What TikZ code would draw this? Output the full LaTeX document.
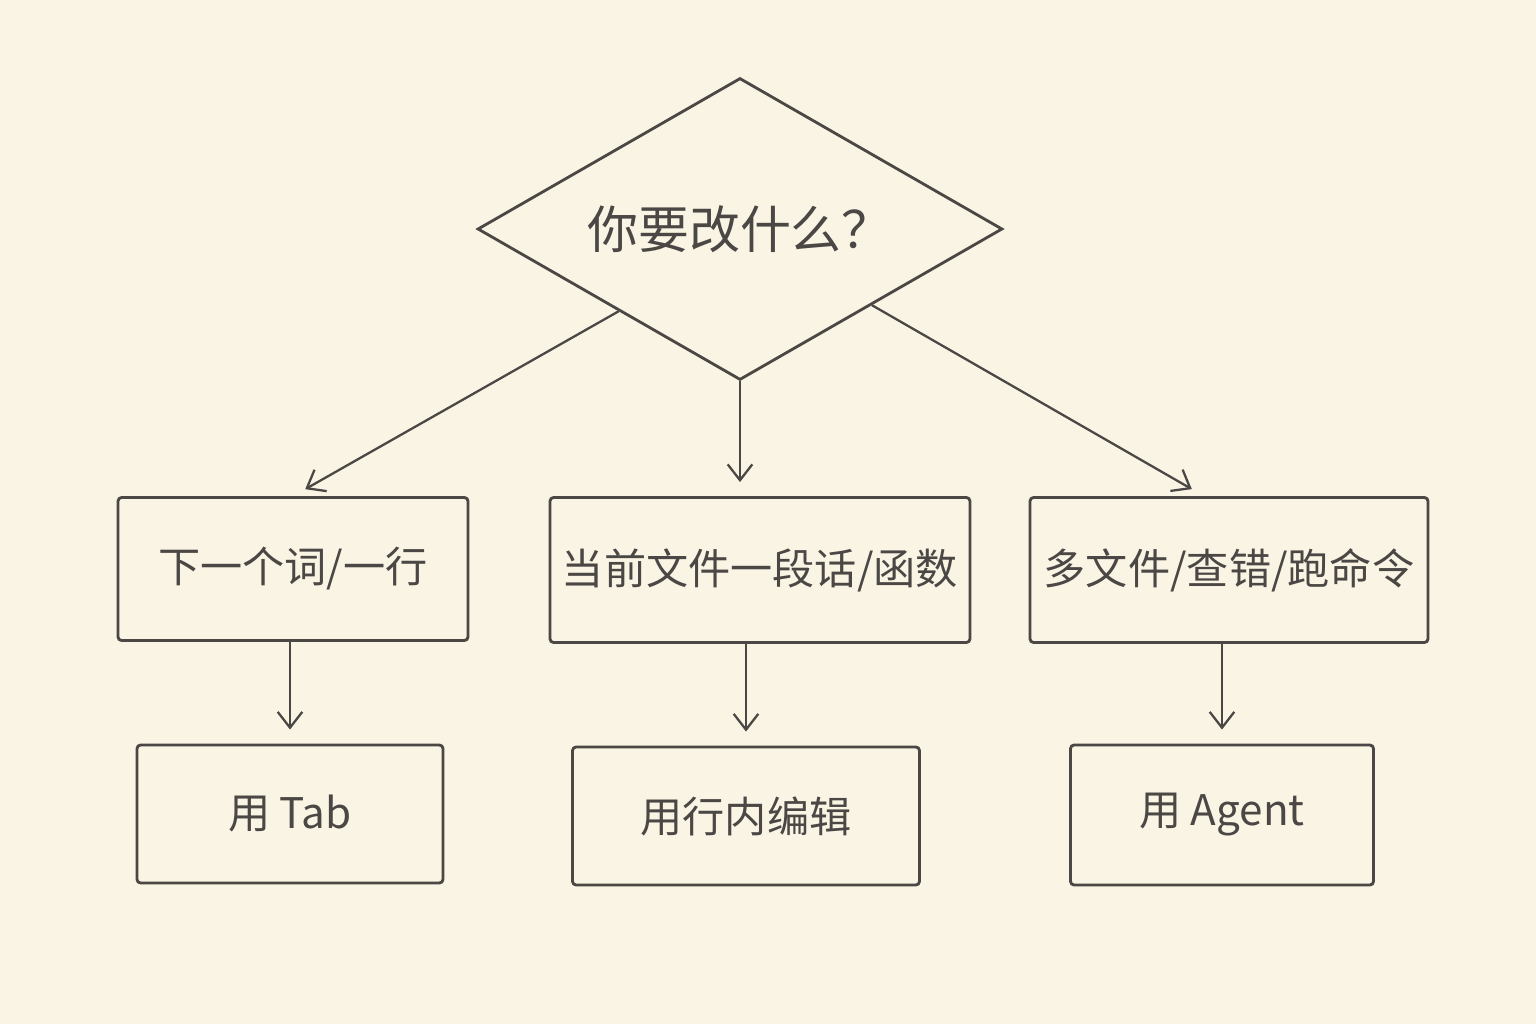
\documentclass[tikz,border=0pt]{standalone}
\usepackage{fontspec}
\setmainfont{Noto Sans CJK SC}
\usetikzlibrary{positioning,calc,shapes.geometric,arrows.meta}
\definecolor{paper}{HTML}{FAF4E4}
\definecolor{pencil}{HTML}{4A4744}
\tikzset{box/.style={draw=pencil, line width=1.6pt, rounded corners=2, inner sep=0pt, font=\fontsize{24}{28}\selectfont, text=pencil}}
\tikzset{arr/.style={draw=pencil, line width=1.3pt, -{Straight Barb[length=9pt,width=14pt]}, shorten >=8pt}}
\begin{document}
\begin{tikzpicture}[x=0.02cm,y=-0.02cm]
  \fill[paper] (0,0) rectangle (1536,1024);
  \useasboundingbox (0,0) rectangle (1536,1024);
  \node[box, diamond, rounded corners=0, minimum width=10.5cm, minimum height=6.04cm,
    label={[text=pencil, font=\fontsize{29}{33}\selectfont]center:你要改什么？}] (Q) at (740,229) {};
  %
  \node[box, minimum width=7cm, minimum height=2.86cm] (L1) at (293,569) {下一个词/一行};
  \node[box, minimum width=8.4cm, minimum height=2.9cm] (M1) at (760,570) {当前文件一段话/函数};
  \node[box, minimum width=7.96cm, minimum height=2.9cm] (R1) at (1229,570) {多文件/查错/跑命令};
  %
  \node[box, minimum width=6.12cm, minimum height=2.76cm] (L2) at (290,814) {用 Tab};
  \node[box, minimum width=6.94cm, minimum height=2.76cm] (M2) at (746,816) {用行内编辑};
  \node[box, minimum width=6.06cm, minimum height=2.8cm] (R2) at (1222,815) {用 Agent};
  %
  \draw[arr] ($(Q.west)!0.54!(Q.south)$) -- (L1.north);
  \draw[arr] (Q.south) -- (Q.south |- M1.north);
  \draw[arr] ($(Q.east)!0.5!(Q.south)$) -- ($(R1.north)+(-25,0)$);
  \draw[arr] (L1.south -| L2.north) -- (L2.north);
  \draw[arr] (M1.south -| M2.north) -- (M2.north);
  \draw[arr] (R1.south -| R2.north) -- (R2.north);
\end{tikzpicture}
\end{document}
